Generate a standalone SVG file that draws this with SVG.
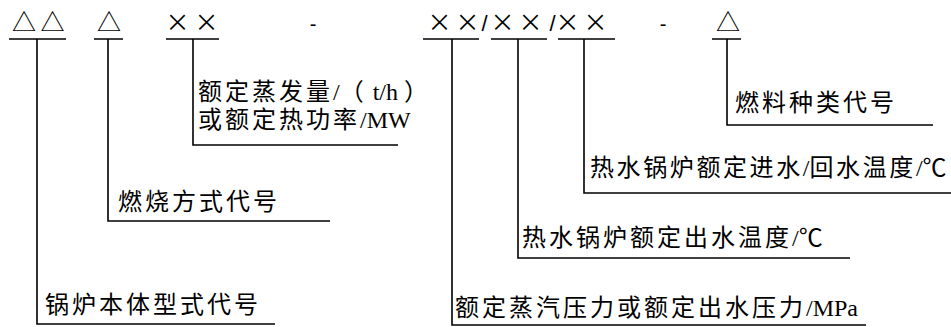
<svg xmlns="http://www.w3.org/2000/svg" width="951" height="327" viewBox="0 0 951 327">
<style>
.ln{stroke:#000;stroke-width:1.6;fill:none}
.sym{font-family:"Noto Sans CJK SC","DejaVu Sans",sans-serif;font-size:24px;fill:#000;text-anchor:middle}
.sl{font-family:"Liberation Sans",sans-serif;font-size:22px;fill:#000;text-anchor:middle}
.dash{font-family:"Liberation Sans",sans-serif;font-size:20px;fill:#000;text-anchor:middle}
.lbl{font-family:"Liberation Serif","Noto Sans CJK SC",serif;font-size:24px;fill:#000;letter-spacing:3px}
.lat{letter-spacing:0}
</style>
<rect width="951" height="327" fill="#fff"/>
<g id="code">
<text class="sym" x="24 52.5 109 177.5 206.5 439.5 467.5 502.5 530.5 567.5 595.5 728" y="31">△△△××××××××△</text>
<text class="sl" x="484.5 552.5" y="31">//</text>
<text class="dash" x="313 663" y="31">--</text>
</g>
<g id="connectors">
<path class="ln" d="M9 39H66M37 39V324H275"/>
<path class="ln" d="M94 39H123M108 39V221H330"/>
<path class="ln" d="M166 39H219M193 39V145H398"/>
<path class="ln" d="M423 39H479M452 39V325H866"/>
<path class="ln" d="M491 39H547M518 39V258H850"/>
<path class="ln" d="M558 39H615M584 39V193H951"/>
<path class="ln" d="M712 39H741M727 39V125H933"/>
</g>
<g id="n-body"><text class="lbl" x="45" y="313">锅炉本体型式代号</text></g>
<g id="n-comb"><text class="lbl" x="118" y="210">燃烧方式代号</text></g>
<g id="n-cap"><text class="lbl" x="198" y="100">额定蒸发量<tspan class="lat">/</tspan>（<tspan class="lat"> t/h </tspan>）</text>
<text class="lbl" x="198" y="128">或额定热功率<tspan class="lat">/MW</tspan></text></g>
<g id="n-press"><text class="lbl" x="455" y="316">额定蒸汽压力或额定出水压力<tspan class="lat">/MPa</tspan></text></g>
<g id="n-out"><text class="lbl" x="522" y="246">热水锅炉额定出水温度<tspan class="lat">/</tspan>℃</text></g>
<g id="n-inret"><text class="lbl" x="590" y="176" style="letter-spacing:2.6px">热水锅炉额定进水<tspan class="lat">/</tspan>回水温度<tspan class="lat">/</tspan>℃</text></g>
<g id="n-fuel"><text class="lbl" x="735" y="111">燃料种类代号</text></g>
</svg>
